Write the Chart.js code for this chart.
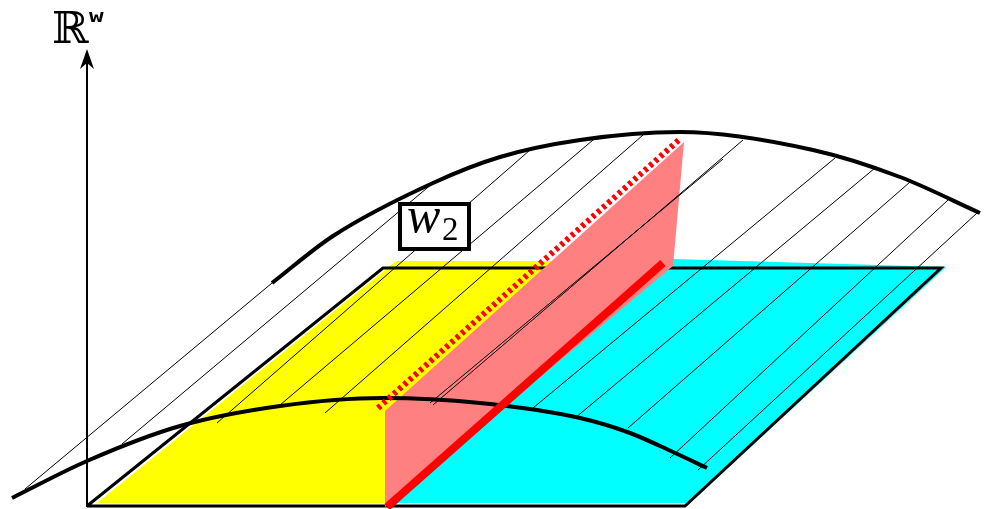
<!DOCTYPE html>
<html><head><meta charset="utf-8">
<script src="https://cdn.jsdelivr.net/npm/chart.js@4.4.1/dist/chart.umd.min.js"></script>
<style>html,body{margin:0;padding:0;background:#fff}#wrap{width:994px;height:509px;position:relative}</style>
</head><body><div id="wrap"><canvas id="c"></canvas></div>
<script>
// ---- data (diagram coordinates) ----
const planeX  = [87, 685, 941, 383, 87];
const planeY  = [506, 506, 268, 268, 506];
const yellowX = [97, 385, 560, 396];
const yellowY = [503, 503, 261, 261];
const cyanX   = [388, 690, 946, 673, 600];
const cyanY   = [503, 503, 267, 259, 259];
const pinkX   = [385, 385, 684, 673];
const pinkY   = [507, 411, 142, 266];
const redLineX = [387, 663];
const redLineY = [507, 263];
const redDotX  = [378, 680];
const redDotY  = [408, 139];
const lowCurveX = [12, 87, 180, 280, 383, 480, 580, 630, 673, 707];
const lowCurveY = [498, 461, 426, 406, 398, 403, 418, 433, 452, 468];
const topCurveX = [272, 333, 433, 500, 580, 680, 813, 900, 980];
const topCurveY = [283, 236, 183, 157, 140, 132, 150, 177, 213];
const hatchX0 = [25, 122, 217, 280, 325, 430, 433, 533, 575, 628, 670, 698];
const hatchY0 = [489, 444, 423, 405, 413, 403, 405, 408, 418, 428, 458, 470];
const hatchX1 = [272, 433, 530, 593, 643, 723, 743, 835, 875, 910, 948, 977];
const hatchY1 = [283, 183, 150, 140, 135, 159, 140, 158, 168, 182, 200, 213];
const axisX = [87, 87];
const axisY = [507, 60];
const arrowX = [87, 94, 87, 80];
const arrowY = [49, 69, 63, 69];
const axisLabel = 'ℝ';
const axisSup = 'w';
const boxMain = 'w';
const boxSub = '2';

const pts = (xs, ys) => xs.map((x, i) => ({x, y: ys[i]}));

let layer = 0;
const ds = [];
function add(o) {
  layer++;
  ds.push(Object.assign({
    showLine: true, pointRadius: 0, pointHoverRadius: 0, pointHitRadius: 0,
    fill: false, borderWidth: 0, borderColor: 'rgba(0,0,0,0)', backgroundColor: 'rgba(0,0,0,0)',
    tension: 0, clip: false, order: 1000 - layer, borderJoinStyle: 'miter'
  }, o));
}
add({data: pts(yellowX, yellowY), fill: 'shape', backgroundColor: '#ffff00'});
add({data: pts(cyanX, cyanY), fill: 'shape', backgroundColor: '#00ffff'});
add({data: pts(planeX, planeY), borderWidth: 3, borderColor: '#000'});
add({data: pts(pinkX, pinkY), fill: 'shape', backgroundColor: '#ff8080'});
add({data: pts(lowCurveX, lowCurveY), borderWidth: 4, borderColor: '#000', cubicInterpolationMode: 'monotone'});
add({data: pts(topCurveX, topCurveY), borderWidth: 4, borderColor: '#000', cubicInterpolationMode: 'monotone'});
for (let i = 0; i < hatchX0.length; i++) {
  add({data: [{x: hatchX0[i], y: hatchY0[i]}, {x: hatchX1[i], y: hatchY1[i]}], borderWidth: 1, borderColor: '#000'});
}
add({data: pts(redLineX, redLineY), borderWidth: 8, borderColor: '#ff0000', borderCapStyle: 'butt'});
add({data: pts(redDotX, redDotY), borderWidth: 6, borderColor: '#ff0000', borderDash: [3.5, 3.5], borderCapStyle: 'butt'});
add({data: pts(axisX, axisY), borderWidth: 2, borderColor: '#000'});
add({data: pts(arrowX, arrowY), fill: 'shape', backgroundColor: '#000'});

const labelPlugin = {
  id: 'labelPlugin',
  afterDatasetsDraw(chart) {
    const {ctx} = chart;
    const sx = chart.scales.x, sy = chart.scales.y;
    const X = v => sx.getPixelForValue(v), Y = v => sy.getPixelForValue(v);
    ctx.save();
    // boxed label
    ctx.fillStyle = '#fff';
    ctx.fillRect(X(400), Y(204), X(469) - X(400), Y(249) - Y(204));
    ctx.strokeStyle = '#000';
    ctx.lineWidth = 4;
    ctx.strokeRect(X(400), Y(204), X(469) - X(400), Y(249) - Y(204));
    ctx.fillStyle = '#000';
    ctx.textBaseline = 'alphabetic';
    ctx.textAlign = 'left';
    ctx.font = 'italic 50px "Liberation Serif", "DejaVu Serif", serif';
    ctx.fillText(boxMain, X(407), Y(232));
    ctx.font = '33px "Liberation Serif", "DejaVu Serif", serif';
    ctx.fillText(boxSub, X(442), Y(240));
    // axis label
    ctx.font = '44px "DejaVu Serif", "DejaVu Sans"';
    ctx.fillText(axisLabel, X(52), Y(43));
    ctx.save();
    ctx.translate(X(89), Y(22));
    ctx.scale(1.35, 1);
    ctx.font = 'bold 18px "DejaVu Sans Mono", monospace';
    ctx.fillText(axisSup, 0, 0);
    ctx.restore();
    ctx.restore();
  }
};

new Chart(document.getElementById('c'), {
  type: 'scatter',
  data: {datasets: ds},
  options: {
    responsive: true, maintainAspectRatio: false, animation: false,
    devicePixelRatio: 1,
    layout: {padding: 0},
    plugins: {legend: {display: false}, tooltip: {enabled: false}},
    events: [],
    scales: {
      x: {type: 'linear', min: 0, max: 994, display: false},
      y: {type: 'linear', min: 0, max: 509, reverse: true, display: false}
    }
  },
  plugins: [labelPlugin]
});
</script>
</body></html>
